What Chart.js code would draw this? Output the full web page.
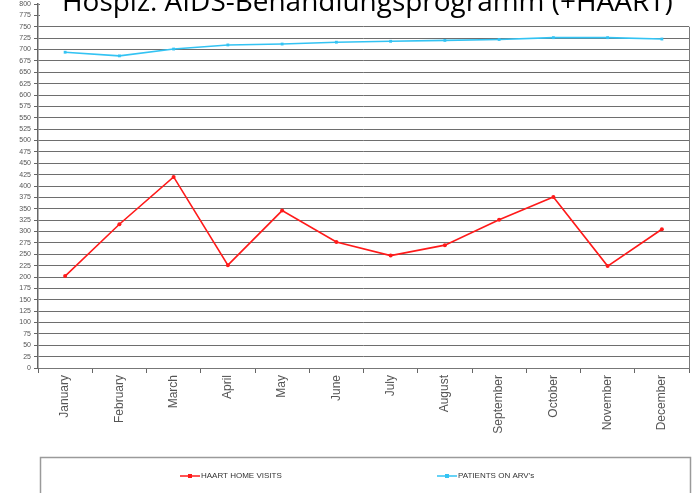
<!DOCTYPE html>
<html>
<head>
<meta charset="utf-8">
<script src="https://cdn.jsdelivr.net/npm/chart.js@4.4.1/dist/chart.umd.min.js"></script>
<style>
  html, body { margin: 0; padding: 0; background: #fff; }
  #wrap { width: 697px; height: 493px; }
</style>
</head>
<body>
<div id="wrap"><canvas id="haart-graphic" width="697" height="493"></canvas></div>
<script>
var months = ['January', 'February', 'March', 'April', 'May', 'June', 'July', 'August', 'September', 'October', 'November', 'December'];
var homeVisits = [202, 316, 420, 226, 346, 277, 247, 270, 326, 376, 224, 305];
var patientsOnArv = [694, 686, 701, 710, 712, 716, 718, 720, 722, 726, 726, 723];
var yMin = 0;
var yMax = 800;
var yStep = 25;
var titleText = 'Hospiz: AIDS-Behandlungsprogramm (+HAART)';

// title sits over the top of the plot, legend is a framed box under the axis
var overlays = {
    id: 'overlays',
    afterDraw: function (chart) {
        var c = chart.ctx;
        var area = chart.chartArea;
        var y = chart.scales.y;
        c.save();

        // right edge of the plot area
        c.strokeStyle = '#7a7a7a';
        c.lineWidth = 1;
        c.beginPath();
        c.moveTo(area.right + 0.5, y.getPixelForValue(750));
        c.lineTo(area.right + 0.5, area.bottom);
        c.stroke();

        // title block
        c.fillStyle = '#fff';
        c.fillRect(area.left + 2, 0, chart.width - area.left, y.getPixelForValue(750) - 1.5);
        c.font = '100px "Open Sans"';
        var size = 100 * 611 / c.measureText(titleText).width;
        c.font = size + 'px "Open Sans"';
        c.fillStyle = '#000';
        c.textBaseline = 'alphabetic';
        c.fillText(titleText, 62, 11);

        // legend box
        c.strokeStyle = '#9a9a9a';
        c.lineWidth = 1.5;
        c.strokeRect(40.5, 457.5, 650, 60);
        var spots = [180, 437];
        c.font = '8px "Liberation Sans"';
        c.textBaseline = 'middle';
        chart.data.datasets.forEach(function (ds, i) {
            var x = spots[i], ly = 476;
            c.strokeStyle = ds.borderColor;
            c.fillStyle = ds.borderColor;
            c.lineWidth = 1.5;
            c.beginPath();
            c.moveTo(x, ly);
            c.lineTo(x + 20, ly);
            c.stroke();
            c.fillRect(x + 8, ly - 2, 4, 4);
            c.fillStyle = '#333';
            c.fillText(ds.label, x + 21, ly);
        });
        c.restore();
    }
};

var ctx = document.getElementById('haart-graphic').getContext('2d');

var myLineChart = new Chart(ctx, {
    type: 'line',
    data: {
        labels: months,
        datasets: [{
            label: 'HAART HOME VISITS',
            backgroundColor: '#ff1a1a',
            borderColor: '#ff1a1a',
            borderWidth: 1.6,
            pointRadius: 2,
            pointStyle: 'circle',
            pointBorderWidth: 0,
            tension: 0,
            data: homeVisits
        }, {
            label: "PATIENTS ON ARV's",
            backgroundColor: '#33c3f3',
            borderColor: '#33c3f3',
            borderWidth: 1.6,
            pointRadius: 2,
            pointStyle: 'rect',
            pointBorderWidth: 0,
            tension: 0,
            data: patientsOnArv
        }]
    },
    options: {
        responsive: false,
        animation: false,
        layout: { padding: { top: 0, right: 8, left: 0, bottom: 0 } },
        plugins: {
            legend: { display: false },
            title: { display: false },
            tooltip: { enabled: false }
        },
        scales: {
            x: {
                offset: true,
                grid: { offset: true, drawOnChartArea: false, drawTicks: true, tickLength: 5, color: '#666' },
                border: { color: '#777', width: 1 },
                ticks: {
                    minRotation: 90,
                    maxRotation: 90,
                    autoSkip: false,
                    padding: 2,
                    color: '#555',
                    font: { family: 'Liberation Sans', size: 12 }
                },
                afterFit: function (scale) {
                    scale.height = 125;
                    scale.paddingLeft = 0;
                    scale.paddingRight = 0;
                }
            },
            y: {
                min: yMin,
                max: yMax,
                ticks: {
                    stepSize: yStep,
                    autoSkip: false,
                    padding: 3,
                    color: '#555',
                    font: { family: 'Liberation Sans', size: 7 }
                },
                grid: { color: '#6e6e6e', lineWidth: 1, drawTicks: true, tickLength: 4, tickColor: '#666' },
                border: { color: '#666', width: 1.5 },
                afterFit: function (scale) {
                    scale.width = 38;
                    scale.paddingTop = 0;
                    scale.paddingBottom = 0;
                }
            }
        }
    },
    plugins: [overlays]
});
</script>
</body>
</html>
